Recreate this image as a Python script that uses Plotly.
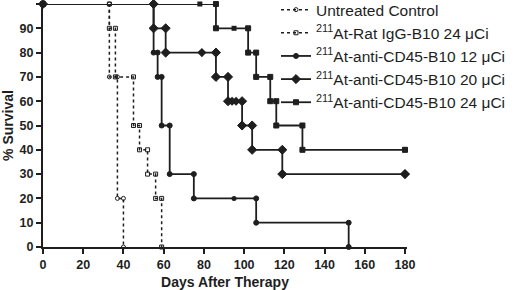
import plotly.graph_objects as go

# ---- data ----
x_ticks = [0, 20, 40, 60, 80, 100, 120, 140, 160, 180]
y_ticks = [0, 10, 20, 30, 40, 50, 60, 70, 80, 90, 100]

ctrl_days = [33, 37, 40]
ctrl_surv = [70, 20, 0]

igg_days = [33, 36, 45, 48, 52, 56, 59]
igg_surv = [90, 70, 50, 40, 30, 20, 0]

d12_days = [55, 57, 59, 63, 75, 106, 152]
d12_surv = [80, 70, 50, 30, 20, 10, 0]
d12_cens_days = [95]
d12_cens_surv = [20]

d20_days = [55, 61, 86, 92, 99, 104, 119]
d20_surv = [90, 80, 70, 60, 50, 40, 30]
d20_cens_days = [79, 94, 96, 180]
d20_cens_surv = [80, 60, 60, 30]

d24_days = [86, 102, 106, 113, 116, 129]
d24_surv = [90, 80, 70, 60, 50, 40]
d24_cens_days = [78, 95, 180]
d24_cens_surv = [100, 90, 40]

names = [
    "Untreated Control",
    "<sup>211</sup>At-Rat IgG-B10 24 μCi",
    "<sup>211</sup>At-anti-CD45-B10 12 μCi",
    "<sup>211</sup>At-anti-CD45-B10 20 μCi",
    "<sup>211</sup>At-anti-CD45-B10 24 μCi",
]

INK = "#1e1e1e"


def steps(days, surv, end=None):
    xs, ys = [0], [100]
    prev = 100
    for d, s in zip(days, surv):
        xs += [d, d]
        ys += [prev, s]
        prev = s
    if end is not None:
        xs.append(end)
        ys.append(prev)
    return xs, ys


series = [
    (ctrl_days, ctrl_surv, None, [], [], "dot", "circle-open", 4, 1.5),
    (igg_days, igg_surv, None, [], [], "dot", "square-open", 4, 1.5),
    (d12_days, d12_surv, None, d12_cens_days, d12_cens_surv, "solid", "circle", 5, 1.8),
    (d20_days, d20_surv, 180, d20_cens_days, d20_cens_surv, "solid", "diamond", 7, 1.8),
    (d24_days, d24_surv, 180, d24_cens_days, d24_cens_surv, "solid", "square", 5, 1.8),
]

fig = go.Figure()
for name, (dd, ss, end, cd, cs, dash, sym, msz, lw) in zip(names, series):
    xs, ys = steps(dd, ss, end)
    fig.add_trace(go.Scatter(
        x=xs, y=ys, mode="lines+markers", name=name,
        line=dict(color=INK, width=lw, dash=dash),
        marker=dict(symbol=sym, size=msz, color=INK, line=dict(color=INK, width=1)),
        cliponaxis=False,
    ))
    if cd:
        fig.add_trace(go.Scatter(
            x=cd, y=cs, mode="markers", showlegend=False,
            marker=dict(symbol=sym, size=msz, color=INK),
            cliponaxis=False,
        ))

font_family = "Liberation Sans, Arial, sans-serif"

fig.update_layout(
    width=520, height=290,
    margin=dict(l=43, r=113, t=4, b=43, autoexpand=False),
    paper_bgcolor="white", plot_bgcolor="white",
    font=dict(family=font_family, color=INK),
    legend=dict(
        x=(276 - 43) / 364, y=1.045, xref="paper", yref="paper",
        xanchor="left", yanchor="top",
        bgcolor="rgba(0,0,0,0)",
        font=dict(family=font_family, size=15.5, color=INK),
        itemwidth=30, tracegroupgap=0,
    ),
    xaxis=dict(
        range=[0, 181], tickvals=x_ticks, ticktext=[str(v) for v in x_ticks],
        showgrid=False, zeroline=False, showline=True, linecolor=INK, linewidth=2,
        ticks="outside", ticklen=5, tickwidth=1.5, tickcolor=INK, automargin=False,
        tickfont=dict(family=font_family, size=12.5, color=INK, weight="bold"),
        title=dict(text="Days After Therapy",
                   font=dict(family=font_family, size=14, color=INK, weight="bold")),
    ),
    yaxis=dict(
        range=[0, 100], tickvals=y_ticks, ticktext=[str(v) for v in y_ticks],
        showgrid=False, zeroline=False, showline=True, linecolor=INK, linewidth=2,
        ticks="outside", ticklen=5, tickwidth=1.5, tickcolor=INK, automargin=False,
        tickfont=dict(family=font_family, size=12.5, color=INK, weight="bold"),
        title=dict(text="% Survival",
                   font=dict(family=font_family, size=14, color=INK, weight="bold")),
    ),
)

fig.write_html("out.html", config={"displayModeBar": False},
               post_script="document.body.style.margin='0';")
